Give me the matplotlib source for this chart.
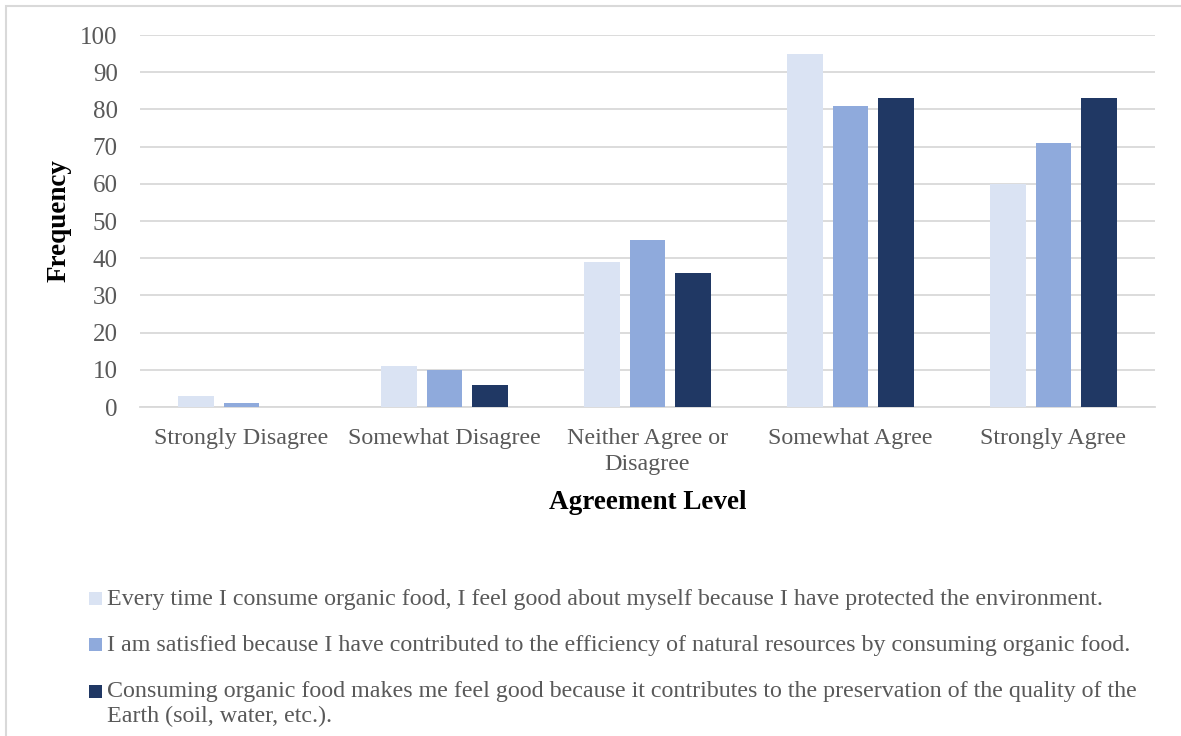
import matplotlib
matplotlib.use("Agg")
import matplotlib.pyplot as plt
import numpy as np
from matplotlib.patches import Rectangle

categories = ["Strongly Disagree", "Somewhat Disagree", "Neither Agree or\nDisagree",
              "Somewhat Agree", "Strongly Agree"]
series_names = [
    "Every time I consume organic food, I feel good about myself because I have protected the environment.",
    "I am satisfied because I have contributed to the efficiency of natural resources by consuming organic food.",
    "Consuming organic food makes me feel good because it contributes to the preservation of the quality of the\nEarth (soil, water, etc.).",
]
s1 = [3, 11, 39, 95, 60]
s2 = [1, 10, 45, 81, 71]
s3 = [0, 6, 36, 83, 83]
colors = ["#DAE3F3", "#8FAADC", "#203864"]
yticks = [0, 10, 20, 30, 40, 50, 60, 70, 80, 90, 100]

plt.rcParams['font.family'] = ['Liberation Serif', 'DejaVu Serif']
txt = "#595959"
W, H = 1181, 736

fig = plt.figure(figsize=(W/100, H/100), dpi=100)
ax = fig.add_axes([140/W, 1-407/H, (1155-140)/W, (407-35)/H])

x = np.arange(len(categories))
w = 0.177
step = 0.222
for i, (vals, c) in enumerate(zip([s1, s2, s3], colors)):
    ax.bar(x + (i-1)*step, vals, width=w, color=c, zorder=3)

ax.set_xlim(-0.5, 4.5)
ax.set_ylim(0, 100)
ax.set_yticks(yticks)
ax.set_xticks(x)
ax.set_xticklabels(categories, fontsize=17.3, color=txt, linespacing=1.3)
ax.tick_params(axis='y', labelsize=18, labelcolor=txt, length=0, pad=16)
ax.tick_params(axis='x', length=0, pad=15)
ax.grid(axis='y', color='#D9D9D9', linewidth=1.3, zorder=0)
for sp in ['top', 'right', 'left']:
    ax.spines[sp].set_visible(False)
ax.spines['bottom'].set_color('#D9D9D9')
ax.spines['bottom'].set_linewidth(1.3)

ax.set_ylabel("Frequency", fontsize=19.5, fontweight='bold', color='black', labelpad=6)
ax.set_xlabel("Agreement Level", fontsize=19.5, fontweight='bold', color='black', labelpad=11)

# legend drawn manually: square marker aligned with first text line
row_y = [599, 645, 692]
line_h = 24
sq = 13
for name, c, ry in zip(series_names, colors, row_y):
    fig.patches.append(Rectangle((89/W, 1-(ry-1+sq/2)/H), sq/W, sq/H,
                                 transform=fig.transFigure, facecolor=c, edgecolor='none'))
    for k, line in enumerate(name.split("\n")):
        fig.text(107/W, 1-(ry + k*line_h)/H, line, fontsize=17.3, color=txt,
                 ha='left', va='center')

fig.patches.append(Rectangle((6/W, -0.05), 1.1, 1-6/H+0.05, transform=fig.transFigure,
                             fill=False, edgecolor='#D9D9D9', linewidth=1.5, clip_on=False))

fig.savefig("out.png", dpi=100)
